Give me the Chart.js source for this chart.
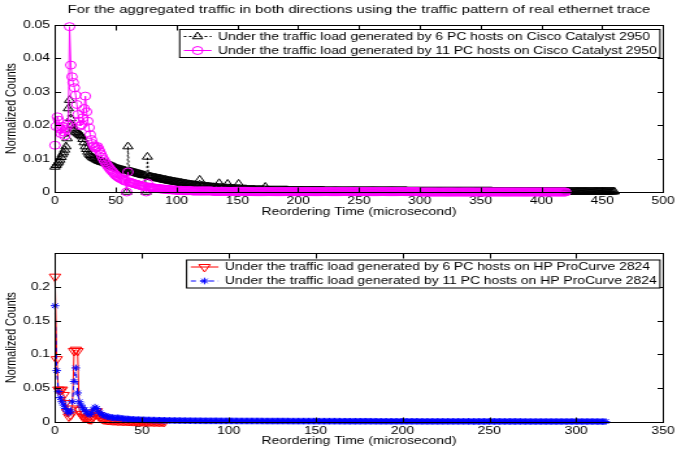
<!DOCTYPE html>
<html lang="en">
  <head>
    <meta charset="UTF-8" />
    <title>Reordering Time</title>
    <style>
      * {
        margin: 0;
        padding: 0;
        box-sizing: border-box;
      }

      body {
        width: 690px;
        height: 454px;
        background: #ffffff;
        overflow: hidden;
      }

      canvas {
        display: block;
      }
    </style>
  </head>
  <body>
    <!-- drawn at 531 px wide and stretched to 690 px, like the original figure -->
    <canvas id="cisco" width="531" height="227" style="width: 690px; height: 227px"></canvas>
    <canvas id="hp" width="531" height="227" style="width: 690px; height: 227px"></canvas>

    <script src="https://cdn.jsdelivr.net/npm/chart.js"></script>
    <script>
      // one value per microsecond bin, starting at 0
      const cisco6 = [
        0.0075, 0.008, 0.0085, 0.009, 0.0096, 0.0104, 0.0112, 0.0118, 0.0126, 0.0136,
        0.016, 0.025, 0.0275, 0.022, 0.02, 0.019, 0.0186, 0.018, 0.0178, 0.0175,
        0.0172, 0.017, 0.0166, 0.0158, 0.0148, 0.0136, 0.0128, 0.012, 0.0114, 0.011,
        0.0106, 0.0103, 0.0101, 0.0099, 0.0097, 0.0095, 0.0093, 0.0092, 0.009, 0.0089,
        0.0088, 0.0087, 0.0085, 0.0084, 0.0082, 0.008, 0.0079, 0.0077, 0.0075, 0.0074,
        0.0072, 0.007, 0.0069, 0.0068, 0.0067, 0.0066, 0.0065, 0.0064, 0.0063, 0,
        0.0136, 0.0062, 0.0061, 0.006, 0.0059, 0.0058, 0.0057, 0.0056, 0.0055, 0.0054,
        0.0053, 0.0052, 0.0051, 0.005, 0.0049, 0, 0.0105, 0.0047, 0.0046, 0.0045,
        0.0044, 0.0043, 0.0043, 0.0042, 0.0041, 0.004, 0.004, 0.0039, 0.0038, 0.0037,
        0.0036, 0.0036, 0.0035, 0.0034, 0.0033, 0.0033, 0.0032, 0.0031, 0.0031, 0.003,
        0.0029, 0.0029, 0.0028, 0.0027, 0.0027, 0.0026, 0.0025, 0.0025, 0.0024, 0.0023,
        0.0023, 0.0022, 0.0022, 0.0021, 0.0021, 0.002, 0.002, 0.0019, 0.0019, 0.0036,
        0.0018, 0.0018, 0.0017, 0.0017, 0.0016, 0.0016, 0.0016, 0.0015, 0.0015, 0.0014,
        0.0014, 0.0014, 0.0013, 0.0013, 0.0013, 0.0026, 0.0012, 0.0012, 0.0012, 0.0011,
        0.0011, 0.0011, 0.0024, 0.0011, 0.001, 0.001, 0.001, 0.001, 0.0009, 0.0009,
        0.0009, 0.0024, 0.0009, 0.0008, 0.0008, 0.0008, 0.0008, 0.0008, 0.0007, 0.0007,
        0.0007, 0.0007, 0.0007, 0.0007, 0.0007, 0.0006, 0.0006, 0.0006, 0.0006, 0.0006,
        0.0006, 0.0006, 0.0006, 0.0015, 0.0006, 0.0005, 0.0005, 0.0005, 0.0005, 0.0005,
        0.0005, 0.0005, 0.0005, 0.0005, 0.0005, 0.0005, 0.0005, 0.0005, 0.0005, 0.0005,
        0.0005, 0.0005, 0.0004, 0.0004, 0.0004, 0.0004, 0.0004, 0.0004, 0.0004, 0.0004,
        0.0004, 0.0004, 0.0004, 0.0004, 0.0004, 0.0004, 0.0004, 0.0004, 0.0004, 0.0004,
        0.0004, 0.0004, 0.0004, 0.0004, 0.0004, 0.0004, 0.0004, 0.0004, 0.0004, 0.0004,
        0.0004, 0.0004, 0.0003, 0.0003, 0.0003, 0.0003, 0.0003, 0.0003, 0.0003, 0.0003,
        0.0003, 0.0003, 0.0003, 0.0003, 0.0003, 0.0003, 0.0003, 0.0003, 0.0003, 0.0003,
        0.0003, 0.0003, 0.0003, 0.0003, 0.0003, 0.0003, 0.0003, 0.0003, 0.0003, 0.0003,
        0.0003, 0.0003, 0.0003, 0.0003, 0.0003, 0.0003, 0.0003, 0.0003, 0.0003, 0.0003,
        0.0003, 0.0003, 0.0003, 0.0003, 0.0003, 0.0003, 0.0003, 0.0003, 0.0003, 0.0003,
        0.0003, 0.0003, 0.0003, 0.0003, 0.0003, 0.0003, 0.0003, 0.0003, 0.0003, 0.0003,
        0.0003, 0.0003, 0.0003, 0.0003, 0.0003, 0.0003, 0.0003, 0.0003, 0.0003, 0.0003,
        0.0002, 0.0002, 0.0002, 0.0002, 0.0002, 0.0002, 0.0002, 0.0002, 0.0002, 0.0002,
        0.0002, 0.0002, 0.0002, 0.0002, 0.0002, 0.0002, 0.0002, 0.0002, 0.0002, 0.0002,
        0.0002, 0.0002, 0.0002, 0.0002, 0.0002, 0.0002, 0.0002, 0.0002, 0.0002, 0.0002,
        0.0002, 0.0002, 0.0002, 0.0002, 0.0002, 0.0002, 0.0002, 0.0002, 0.0002, 0.0002,
        0.0002, 0.0002, 0.0002, 0.0002, 0.0002, 0.0002, 0.0002, 0.0002, 0.0002, 0.0002,
        0.0002, 0.0002, 0.0002, 0.0002, 0.0002, 0.0002, 0.0002, 0.0002, 0.0002, 0.0002,
        0.0002, 0.0002, 0.0002, 0.0002, 0.0002, 0.0002, 0.0002, 0.0002, 0.0002, 0.0002,
        0.0001, 0.0001, 0.0001, 0.0001, 0.0001, 0.0001, 0.0001, 0.0001, 0.0001, 0.0001,
        0.0001, 0.0001, 0.0001, 0.0001, 0.0001, 0.0001, 0.0001, 0.0001, 0.0001, 0.0001,
        0.0001, 0.0001, 0.0001, 0.0001, 0.0001, 0.0001, 0.0001, 0.0001, 0.0001, 0.0001,
        0.0001, 0.0001, 0.0001, 0.0001, 0.0001, 0.0001, 0.0001, 0.0001, 0.0001, 0.0001,
        0.0001, 0.0001, 0.0001, 0.0001, 0.0001, 0.0001, 0.0001, 0.0001, 0.0001, 0.0001,
        0.0001, 0.0001, 0.0001, 0.0001, 0.0001, 0.0001, 0.0001, 0.0001, 0.0001, 0.0001,
        0.0001, 0.0001, 0.0001, 0.0001, 0.0001, 0.0001, 0.0001, 0.0001, 0.0001, 0.0001,
        0.0001, 0.0001, 0.0001, 0.0001, 0.0001, 0.0001, 0.0001, 0.0001, 0.0001, 0.0001,
        0.0001, 0.0001, 0.0001, 0.0001, 0.0001, 0.0001, 0.0001, 0.0001, 0.0001, 0.0001,
        0.0001, 0.0001, 0.0001, 0.0001, 0.0001, 0.0001, 0.0001, 0.0001, 0.0001, 0.0001,
        0.0001,
      ];

      const cisco11 = [
        0.014, 0.0196, 0.0225, 0.0215, 0.019, 0.0175, 0.0196, 0.018, 0.0168, 0.0188,
        0.0205, 0.02, 0.0495, 0.038, 0.0345, 0.0328, 0.0312, 0.029, 0.0262, 0.0232,
        0.0212, 0.0198, 0.0202, 0.0222, 0.025, 0.0287, 0.024, 0.0212, 0.0192, 0.0172,
        0.0157, 0.0145, 0.0138, 0.0132, 0.0134, 0.0136, 0.0128, 0.012, 0.0112, 0.0104,
        0.0097, 0.0091, 0.0085, 0.008, 0.0075, 0.007, 0.0066, 0.0062, 0.0058, 0.0054,
        0.005, 0.0047, 0.0044, 0.0042, 0.004, 0.0038, 0.0036, 0.0034, 0.0032, 0,
        0.006, 0.003, 0.0029, 0.0027, 0.0026, 0.0025, 0.0024, 0.0023, 0.0022, 0.0021,
        0.002, 0.0019, 0.0018, 0.0017, 0.0016, 0, 0.0027, 0.0015, 0.0014, 0.0013,
        0.0013, 0.0012, 0.0012, 0.0011, 0.0011, 0.001, 0.001, 0.0009, 0.0009, 0.0009,
        0.0008, 0.0008, 0.0008, 0.0007, 0.0007, 0.0007, 0.0006, 0.0006, 0.0006, 0.0006,
        0.0005, 0.0005, 0.0005, 0.0005, 0.0005, 0.0004, 0.0004, 0.0004, 0.0004, 0.0004,
        0.0004, 0.0004, 0.0004, 0.0003, 0.0003, 0.0003, 0.0003, 0.0003, 0.0003, 0.0003,
        0.0003, 0.0003, 0.0003, 0.0003, 0.0003, 0.0003, 0.0003, 0.0003, 0.0003, 0.0003,
        0.0002, 0.0002, 0.0002, 0.0002, 0.0002, 0.0002, 0.0002, 0.0002, 0.0002, 0.0002,
        0.0002, 0.0002, 0.0002, 0.0002, 0.0002, 0.0002, 0.0002, 0.0002, 0.0002, 0.0002,
        0.0002, 0.0002, 0.0002, 0.0002, 0.0002, 0.0002, 0.0002, 0.0002, 0.0002, 0.0002,
        0.0001, 0.0001, 0.0001, 0.0001, 0.0001, 0.0001, 0.0001, 0.0001, 0.0001, 0.0001,
        0.0001, 0.0001, 0.0001, 0.0001, 0.0001, 0.0001, 0.0001, 0.0001, 0.0001, 0.0001,
        0.0001, 0.0001, 0.0001, 0.0001, 0.0001, 0.0001, 0.0001, 0.0001, 0.0001, 0.0001,
        0.0001, 0.0001, 0.0001, 0.0001, 0.0001, 0.0001, 0.0001, 0.0001, 0.0001, 0.0001,
        0.0001, 0.0001, 0.0001, 0.0001, 0.0001, 0.0001, 0.0001, 0.0001, 0.0001, 0.0001,
        0.0001, 0.0001, 0.0001, 0.0001, 0.0001, 0.0001, 0.0001, 0.0001, 0.0001, 0.0001,
        0.0001, 0.0001, 0.0001, 0.0001, 0.0001, 0.0001, 0.0001, 0.0001, 0.0001, 0.0001,
        0.0001, 0.0001, 0.0001, 0.0001, 0.0001, 0.0001, 0.0001, 0.0001, 0.0001, 0.0001,
        0.0001, 0.0001, 0.0001, 0.0001, 0.0001, 0.0001, 0.0001, 0.0001, 0.0001, 0.0001,
        0.0001, 0.0001, 0.0001, 0.0001, 0.0001, 0.0001, 0.0001, 0.0001, 0.0001, 0.0001,
        0.0001, 0.0001, 0.0001, 0.0001, 0.0001, 0.0001, 0.0001, 0.0001, 0.0001, 0.0001,
        0.0001, 0.0001, 0.0001, 0.0001, 0.0001, 0.0001, 0.0001, 0.0001, 0.0001, 0.0001,
        0.0001, 0.0001, 0.0001, 0.0001, 0.0001, 0.0001, 0.0001, 0.0001, 0.0001, 0.0001,
        0.0001, 0.0001, 0.0001, 0.0001, 0.0001, 0.0001, 0.0001, 0.0001, 0.0001, 0.0001,
        0, 0, 0, 0, 0, 0, 0, 0, 0, 0,
        0, 0, 0, 0, 0, 0, 0, 0, 0, 0,
        0, 0, 0, 0, 0, 0, 0, 0, 0, 0,
        0, 0, 0, 0, 0, 0, 0, 0, 0, 0,
        0, 0, 0, 0, 0, 0, 0, 0, 0, 0,
        0, 0, 0, 0, 0, 0, 0, 0, 0, 0,
        0, 0, 0, 0, 0, 0, 0, 0, 0, 0,
        0, 0, 0, 0, 0, 0, 0, 0, 0, 0,
        0, 0, 0, 0, 0, 0, 0, 0, 0, 0,
        0, 0, 0, 0, 0, 0, 0, 0, 0, 0,
        0, 0, 0, 0, 0, 0, 0, 0, 0, 0,
        0, 0, 0, 0, 0, 0, 0, 0, 0, 0,
        0,
      ];

      const hp6 = [
        0.215, 0.093, 0.048, 0.047, 0.048, 0.04, 0.028, 0.015, 0.008, 0.01,
        0.02, 0.105, 0.107, 0.105, 0.018, 0.012, 0.008, 0.007, 0.006, 0.005,
        0.004, 0.004, 0.008, 0.014, 0.016, 0.01, 0.006, 0.005, 0.004, 0.0035,
        0.0032, 0.003, 0.0028, 0.0026, 0.0025, 0.0024, 0.0022, 0.0021, 0.002, 0.0019,
        0.0018, 0.0017, 0.0016, 0.0015, 0.0014, 0.0013, 0.0013, 0.0012, 0.0011, 0.0011,
        0.001, 0.001, 0.0009, 0.0009, 0.0008, 0.0008, 0.0007, 0.0007, 0.0006, 0.0006,
        0.0005, 0.0005, 0.0004, 0.0004,
      ];

      const hp11 = [
        0.172, 0.076, 0.045, 0.036, 0.03, 0.025, 0.02, 0.016, 0.013, 0.016,
        0.03, 0.06, 0.08, 0.043, 0.03, 0.025, 0.021, 0.018, 0.015, 0.012,
        0.011, 0.013, 0.018, 0.022, 0.02, 0.016, 0.013, 0.011, 0.01, 0.009,
        0.008, 0.0075, 0.007, 0.0065, 0.006, 0.006, 0.0062, 0.006, 0.0055, 0.005,
        0.0048, 0.0046, 0.0044, 0.0042, 0.004, 0.0038, 0.0037, 0.0036, 0.0035, 0.0034,
        0.0033, 0.0032, 0.0031, 0.003, 0.003, 0.0029, 0.0028, 0.0028, 0.0027, 0.0026,
        0.0026, 0.0025, 0.0025, 0.0024, 0.0024, 0.0023, 0.0023, 0.0022, 0.0022, 0.0022,
        0.0021, 0.0021, 0.0021, 0.002, 0.002, 0.002, 0.0019, 0.0019, 0.0019, 0.0019,
        0.0018, 0.0018, 0.0018, 0.0018, 0.0018, 0.0017, 0.0017, 0.0017, 0.0017, 0.0017,
        0.0017, 0.0017, 0.0017, 0.0017, 0.0017, 0.0016, 0.0016, 0.0016, 0.0016, 0.0016,
        0.0016, 0.0016, 0.0016, 0.0016, 0.0016, 0.0015, 0.0015, 0.0015, 0.0015, 0.0015,
        0.0015, 0.0015, 0.0015, 0.0015, 0.0015, 0.0015, 0.0015, 0.0015, 0.0015, 0.0015,
        0.0014, 0.0014, 0.0014, 0.0014, 0.0014, 0.0014, 0.0014, 0.0014, 0.0014, 0.0014,
        0.0014, 0.0014, 0.0014, 0.0014, 0.0014, 0.0013, 0.0013, 0.0013, 0.0013, 0.0013,
        0.0013, 0.0013, 0.0013, 0.0013, 0.0013, 0.0013, 0.0013, 0.0013, 0.0013, 0.0013,
        0.0012, 0.0012, 0.0012, 0.0012, 0.0012, 0.0012, 0.0012, 0.0012, 0.0012, 0.0012,
        0.0012, 0.0012, 0.0012, 0.0012, 0.0012, 0.0011, 0.0011, 0.0011, 0.0011, 0.0011,
        0.0011, 0.0011, 0.0011, 0.0011, 0.0011, 0.0011, 0.0011, 0.0011, 0.0011, 0.0011,
        0.0011, 0.0011, 0.0011, 0.0011, 0.0011, 0.001, 0.001, 0.001, 0.001, 0.001,
        0.001, 0.001, 0.001, 0.001, 0.001, 0.001, 0.001, 0.001, 0.001, 0.001,
        0.001, 0.001, 0.001, 0.001, 0.001, 0.001, 0.001, 0.001, 0.001, 0.001,
        0.0009, 0.0009, 0.0009, 0.0009, 0.0009, 0.0009, 0.0009, 0.0009, 0.0009, 0.0009,
        0.0009, 0.0009, 0.0009, 0.0009, 0.0009, 0.0009, 0.0009, 0.0009, 0.0009, 0.0009,
        0.0009, 0.0009, 0.0009, 0.0009, 0.0009, 0.0009, 0.0009, 0.0009, 0.0009, 0.0009,
        0.0008, 0.0008, 0.0008, 0.0008, 0.0008, 0.0008, 0.0008, 0.0008, 0.0008, 0.0008,
        0.0008, 0.0008, 0.0008, 0.0008, 0.0008, 0.0008, 0.0008, 0.0008, 0.0008, 0.0008,
        0.0008, 0.0008, 0.0008, 0.0008, 0.0008, 0.0008, 0.0008, 0.0008, 0.0008, 0.0008,
        0.0007, 0.0007, 0.0007, 0.0007, 0.0007, 0.0007, 0.0007, 0.0007, 0.0007, 0.0007,
        0.0007, 0.0007, 0.0007, 0.0007, 0.0007, 0.0007, 0.0007, 0.0007, 0.0007, 0.0007,
        0.0007, 0.0007, 0.0007, 0.0007, 0.0007, 0.0007, 0.0007, 0.0007, 0.0007, 0.0007,
        0.0007, 0.0007, 0.0007, 0.0007, 0.0007, 0.0007, 0.0007, 0.0007, 0.0007, 0.0007,
        0.0007, 0.0007, 0.0007, 0.0006, 0.0006, 0.0006, 0.0006, 0.0006,
      ];

      const ciscoXTicks = [0, 50, 100, 150, 200, 250, 300, 350, 400, 450, 500];
      const ciscoYTicks = [0, 0.01, 0.02, 0.03, 0.04, 0.05];
      const hpXTicks = [0, 50, 100, 150, 200, 250, 300, 350];
      const hpYTicks = [0, 0.05, 0.1, 0.15, 0.2];

      const ciscoLabels = [
        "Under the traffic load generated by 6 PC hosts on Cisco Catalyst 2950",
        "Under the traffic load generated by 11 PC hosts on Cisco Catalyst 2950",
      ];
      const hpLabels = [
        "Under the traffic load generated by 6 PC hosts on HP ProCurve 2824",
        "Under the traffic load generated by 11 PC hosts on HP ProCurve 2824",
      ];

      const FONT = '"Liberation Sans", Arial, Helvetica, sans-serif';
      const FONT_SIZE = 10.7;
      Chart.defaults.font.family = FONT;
      Chart.defaults.font.size = FONT_SIZE;
      Chart.defaults.color = "#000";

      function toPoints(values) {
        return values.map((v, i) => ({ x: i, y: v }));
      }

      function series(values, color, style, radius, dash, rotation, order) {
        return {
          data: toPoints(values),
          borderColor: color,
          borderWidth: 1,
          borderDash: dash,
          pointStyle: style,
          pointRadius: radius,
          pointHoverRadius: radius,
          pointRotation: rotation,
          pointBorderColor: color,
          pointBackgroundColor: "rgba(0,0,0,0)",
          pointBorderWidth: 1,
          tension: 0,
          fill: false,
          clip: false,
          order: order,
        };
      }

      // box round the plot, ticks pointing inwards on all four sides
      const matlabAxes = {
        id: "matlabAxes",
        afterDatasetsDraw(chart) {
          const { ctx, chartArea: a, scales } = chart;
          const len = 4.5;
          const l = Math.round(a.left) + 0.5;
          const r = Math.round(a.right) + 0.5;
          const t = Math.round(a.top) + 0.5;
          const b = Math.round(a.bottom) + 0.5;
          ctx.save();
          ctx.setLineDash([]);
          ctx.strokeStyle = "#000";
          ctx.lineWidth = 1;
          ctx.strokeRect(l, t, r - l, b - t);
          ctx.beginPath();
          scales.x.ticks.forEach((tick) => {
            if (tick.value <= scales.x.min || tick.value >= scales.x.max) return;
            const px = Math.round(scales.x.getPixelForValue(tick.value)) + 0.5;
            ctx.moveTo(px, b);
            ctx.lineTo(px, b - 5);
            ctx.moveTo(px, t);
            ctx.lineTo(px, t + 5);
          });
          scales.y.ticks.forEach((tick) => {
            if (tick.value <= scales.y.min || tick.value >= scales.y.max) return;
            const py = Math.round(scales.y.getPixelForValue(tick.value)) + 0.5;
            ctx.moveTo(l, py);
            ctx.lineTo(l + len, py);
            ctx.moveTo(r, py);
            ctx.lineTo(r - len, py);
          });
          ctx.stroke();
          ctx.restore();
        },
      };

      // legend in a box at the top right of the plot, line sample with marker
      const boxLegend = {
        id: "boxLegend",
        afterDraw(chart, args, opts) {
          const { ctx, chartArea: a } = chart;
          const items = chart.data.datasets.map((ds, i) => ({
            ds: ds,
            label: opts.labels[i],
          }));
          ctx.save();
          ctx.font = FONT_SIZE + "px " + FONT;
          const textW = Math.max(...items.map((it) => ctx.measureText(it.label).width));
          const w = 29.5 + textW + 2.5;
          const h = 14 * items.length;
          const right = a.right - 2.3;
          const left = right - w;
          const top = a.top + opts.top;
          ctx.fillStyle = "#fff";
          ctx.fillRect(left, top, w, h);
          ctx.strokeStyle = "#000";
          ctx.lineWidth = 1;
          ctx.strokeRect(left, top, w, h);
          items.forEach((it, i) => {
            const cy = top + 7 + i * 14;
            const ds = it.ds;
            ctx.strokeStyle = ds.borderColor;
            ctx.setLineDash(ds.borderDash);
            ctx.beginPath();
            ctx.moveTo(left + 3.2, cy);
            ctx.lineTo(left + 24.5, cy);
            ctx.stroke();
            ctx.setLineDash([]);
            ctx.fillStyle = "rgba(0,0,0,0)";
            Chart.helpers.drawPoint(
              ctx,
              {
                pointStyle: ds.pointStyle,
                radius: ds.pointRadius,
                rotation: ds.pointRotation,
                borderWidth: 1,
              },
              left + 13.8,
              cy
            );
            ctx.fillStyle = "#000";
            ctx.textBaseline = "middle";
            ctx.textAlign = "left";
            ctx.fillText(it.label, left + 29.5, cy + 0.5);
          });
          ctx.restore();
        },
      };

      function axes(xMax, xTicks, yMax, yTicks, xHeight, titlePad) {
        return {
          x: {
            type: "linear",
            min: 0,
            max: xMax,
            afterBuildTicks: (s) => {
              s.ticks = xTicks.map((v) => ({ value: v }));
            },
            ticks: { padding: 3, autoSkip: false, maxRotation: 0, callback: (v) => String(v) },
            grid: { display: false, drawTicks: false },
            border: { display: false },
            title: {
              display: true,
              text: "Reordering Time (microsecond)",
              padding: { top: 0, bottom: titlePad },
            },
            afterFit: (s) => {
              s.height = xHeight;
            },
          },
          y: {
            type: "linear",
            min: 0,
            max: yMax,
            afterBuildTicks: (s) => {
              s.ticks = yTicks.map((v) => ({ value: v }));
            },
            ticks: { padding: 3.8, autoSkip: false, callback: (v) => String(v) },
            grid: { display: false, drawTicks: false },
            border: { display: false },
            title: {
              display: true,
              text: "Normalized Counts",
              padding: { top: 3, bottom: 0 },
            },
            afterFit: (s) => {
              s.width = 42.3;
            },
          },
        };
      }

      new Chart(document.getElementById("cisco"), {
        type: "line",
        data: {
          datasets: [
            series(cisco6, "#000000", "triangle", 4.5, [2, 2], 0, 1),
            series(cisco11, "#ff00ff", "circle", 4, [], 0, 0),
          ],
        },
        options: {
          responsive: false,
          animation: false,
          events: [],
          layout: { padding: { left: 0, right: 20.8, top: 0, bottom: 0 } },
          scales: axes(500, ciscoXTicks, 0.05, ciscoYTicks, 35, 8.6),
          plugins: {
            legend: { display: false },
            tooltip: { enabled: false },
            title: {
              display: true,
              fullSize: false,
              text: "For the aggregated traffic in both directions using the traffic pattern of real ethernet trace",
              font: { size: 11.5, weight: "normal" },
              padding: { top: 2.8, bottom: 8.4 },
            },
            boxLegend: { labels: ciscoLabels, top: 4.5 },
          },
        },
        plugins: [matlabAxes, boxLegend],
      });

      new Chart(document.getElementById("hp"), {
        type: "line",
        data: {
          datasets: [
            series(hp6, "#ff0000", "triangle", 5, [], 180, 1),
            series(hp11, "#0000ff", "star", 3.3, [4, 3], 0, 0),
          ],
        },
        options: {
          responsive: false,
          animation: false,
          events: [],
          layout: { padding: { left: 0, right: 20.8, top: 26, bottom: 0 } },
          scales: axes(350, hpXTicks, 0.25, hpYTicks, 32, 6.6),
          plugins: {
            legend: { display: false },
            tooltip: { enabled: false },
            boxLegend: { labels: hpLabels, top: 7 },
          },
        },
        plugins: [matlabAxes, boxLegend],
      });
    </script>
  </body>
</html>
